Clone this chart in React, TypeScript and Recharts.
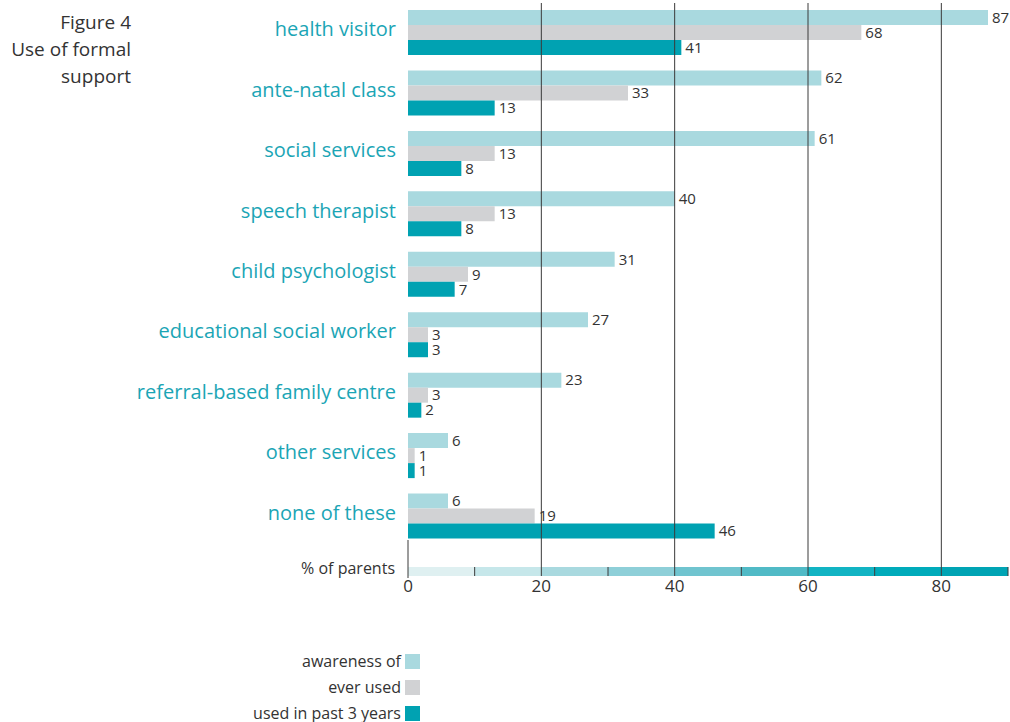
import { Bar, BarChart, ReferenceLine, XAxis, YAxis } from "recharts";

const categories = [
  "health visitor",
  "ante-natal class",
  "social services",
  "speech therapist",
  "child psychologist",
  "educational social worker",
  "referral-based family centre",
  "other services",
  "none of these",
];
const awareness = [87, 62, 61, 40, 31, 27, 23, 6, 6];
const everUsed = [68, 33, 13, 13, 9, 3, 3, 1, 19];
const usedPast3 = [41, 13, 8, 8, 7, 3, 2, 1, 46];
const xTicks = [0, 10, 20, 30, 40, 50, 60, 70, 80, 90];
const gridValues = [20, 40, 60, 80];

const series = [
  { key: "awareness", name: "awareness of", color: "#a9d9df" },
  { key: "everUsed", name: "ever used", color: "#d1d2d4" },
  { key: "usedPast3", name: "used in past 3 years", color: "#00a2b2" },
];

// shades of the scale strip under the plot, one per 10%
const stripColors = [
  "#dff0f1", "#c6e7ea", "#a9d9df", "#8ecfd8", "#70c4cf",
  "#50bac6", "#12b4c3", "#00abba", "#00a4b4",
];

const data = categories.map((name, i) => ({
  name,
  awareness: awareness[i],
  everUsed: everUsed[i],
  usedPast3: usedPast3[i],
}));

const CHART_W = 1010;
const CHART_H = 722;
const MARGIN = { top: 3, right: 2, bottom: 135, left: 0 };
const Y_W = 408;
const X_MAX = 90;
const PLOT_W = CHART_W - MARGIN.left - MARGIN.right - Y_W;
const SEG_W = (PLOT_W / X_MAX) * 10;
const TEXT = "#333333";
const TEAL = "#1ba5b5";
const INK = "#3a3a3a";

function CategoryTick({ x, y, payload }: any) {
  return (
    <text x={x} y={y} dy={3} textAnchor="end" fill={TEAL} fontSize={20}>
      {payload.value}
    </text>
  );
}

function ScaleTick({ x, y, payload, index }: any) {
  const v = payload.value as number;
  const top = y + 20;
  const h = 9;
  return (
    <g>
      {v < X_MAX && (
        <rect x={x} y={top} width={SEG_W} height={h} fill={stripColors[index]} />
      )}
      {v === 0 && (
        <>
          <line x1={x} x2={x} y1={y - 7} y2={y + 31} stroke={INK} />
          <text x={x - 13} y={y + 27} textAnchor="end" fill={TEXT} fontSize={16}>
            % of parents
          </text>
        </>
      )}
      {v > 0 && v % 20 === 0 && <line x1={x} x2={x} y1={y} y2={top + h} stroke={INK} />}
      {v % 20 !== 0 && <line x1={x} x2={x} y1={top} y2={top + h} stroke={INK} />}
      {v % 20 === 0 && v < X_MAX && (
        <text x={x} y={y + 45} textAnchor="middle" fill={TEXT} fontSize={17}>
          {v}
        </text>
      )}
    </g>
  );
}

export default function App() {
  return (
    <div
      style={{
        position: "absolute",
        left: 0,
        top: 0,
        width: CHART_W,
        height: CHART_H,
        fontFamily: "'Open Sans', sans-serif",
        background: "#fff",
      }}
    >
      <div
        style={{
          position: "absolute",
          left: 0,
          top: 9,
          width: 131,
          textAlign: "right",
          fontSize: 19,
          lineHeight: "27px",
          color: TEXT,
        }}
      >
        Figure 4
        <br />
        Use of formal
        <br />
        support
      </div>

      <BarChart
        width={CHART_W}
        height={CHART_H}
        data={data}
        layout="vertical"
        margin={MARGIN}
        barCategoryGap={7}
        barGap={0}
      >
        <XAxis
          type="number"
          domain={[0, X_MAX]}
          ticks={xTicks}
          interval={0}
          axisLine={false}
          tickLine={false}
          tickSize={0}
          tickMargin={0}
          height={40}
          tick={<ScaleTick />}
        />
        <YAxis
          type="category"
          dataKey="name"
          width={Y_W}
          axisLine={false}
          tickLine={false}
          tickSize={0}
          tickMargin={12}
          interval={0}
          tick={<CategoryTick />}
        />
        {series.map((s) => (
          <Bar
            key={s.key}
            dataKey={s.key}
            name={s.name}
            fill={s.color}
            isAnimationActive={false}
            label={{ position: "right", offset: 4, fill: TEXT, fontSize: 15 }}
          />
        ))}
        {gridValues.map((g) => (
          <ReferenceLine key={g} x={g} stroke={INK} strokeWidth={1} />
        ))}
      </BarChart>

      <div style={{ position: "absolute", left: 0, top: 648, width: 420 }}>
        {series.map((s) => (
          <div
            key={s.key}
            style={{
              height: 26,
              display: "flex",
              justifyContent: "flex-end",
              alignItems: "center",
              gap: 4,
              fontSize: 16,
              color: TEXT,
            }}
          >
            <span>{s.name}</span>
            <span style={{ width: 15, height: 15, background: s.color, display: "inline-block" }} />
          </div>
        ))}
      </div>
    </div>
  );
}
